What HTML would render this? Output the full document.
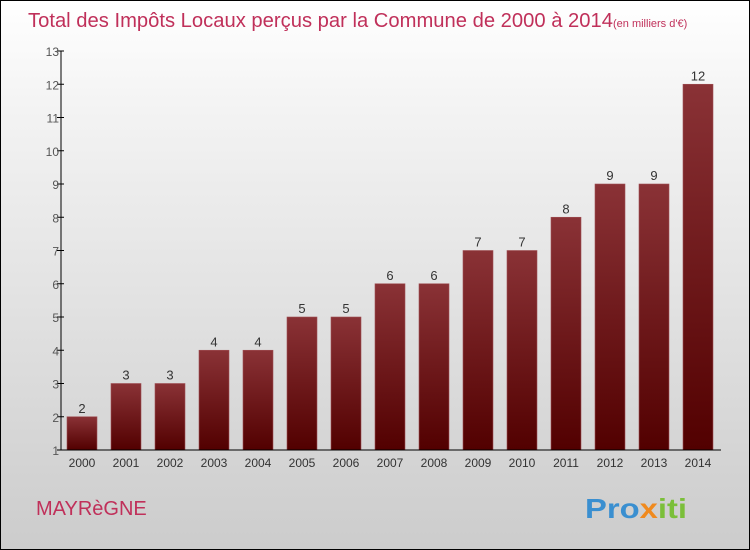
<!DOCTYPE html>
<html><head><meta charset="utf-8"><style>
body{margin:0;}
#wrap{position:relative;width:748px;height:548px;border:1px solid #000;background:linear-gradient(#fff,#f3f3f3 20%,#cccccc);overflow:hidden;font-family:"Liberation Sans",sans-serif;}
svg{position:absolute;left:0;top:0}
</style></head><body>
<div id="wrap">
<svg id="c" width="748" height="548">
<defs><linearGradient id="bg" x1="0" y1="0" x2="0" y2="1"><stop offset="0" stop-color="#8a3236"/><stop offset="1" stop-color="#520000"/></linearGradient></defs>
<text x="27" y="26" font-size="20" fill="#c0305a" textLength="585" lengthAdjust="spacingAndGlyphs">Total des Impôts Locaux perçus par la Commune de 2000 à 2014</text>
<text x="612" y="26" font-size="11" fill="#c0305a">(en milliers d'€)</text>
<text x="35" y="514" font-size="20" fill="#c0305a">MAYRèGNE</text>
<text x="584" y="517" font-size="28" font-weight="bold" textLength="102" lengthAdjust="spacingAndGlyphs"><tspan fill="#3a8fd0">Pro</tspan><tspan fill="#f08a1e">x</tspan><tspan fill="#7bbf3a">iti</tspan></text>
</svg>
</div>
<script>
const years=["2000","2001","2002","2003","2004","2005","2006","2007","2008","2009","2010","2011","2012","2013","2014"];
const values=[2,3,3,4,4,5,5,6,6,7,7,8,9,9,12];
const yTicks=[1,2,3,4,5,6,7,8,9,10,11,12,13];
const svg=document.getElementById('c');const NS='http://www.w3.org/2000/svg';
const y=v=>449-(v-1)*(399/12);
const x=i=>81+i*44;
function mk(t,a){const e=document.createElementNS(NS,t);for(const k in a)e.setAttribute(k,a[k]);svg.appendChild(e);return e;}
yTicks.forEach(t=>{
const l=mk('line',{x1:56,x2:63,y1:y(t),y2:y(t),stroke:'#000'});


const tx=mk('text',{x:58,y:y(t)+5,'font-size':12,fill:'#555','text-anchor':'end'});tx.textContent=t;


});
values.forEach((v,i)=>{
const r=mk('rect',{x:x(i)-15,y:y(v),width:30,height:y(1)-y(v),fill:'url(#bg)',stroke:'#a05055','stroke-width':0.6});


const t=mk('text',{x:x(i),y:y(v)-4,'font-size':13,fill:'#333','text-anchor':'middle'});t.textContent=v;


const yl=mk('text',{x:x(i),y:466,'font-size':12,fill:'#333','text-anchor':'middle'});yl.textContent=years[i];


});
const ya=mk('line',{x1:60,x2:60,y1:y(13),y2:y(1),stroke:'#000'});


const xa=mk('line',{x1:60,x2:720,y1:y(1),y2:y(1),stroke:'#000'});


</script>
</body></html>
